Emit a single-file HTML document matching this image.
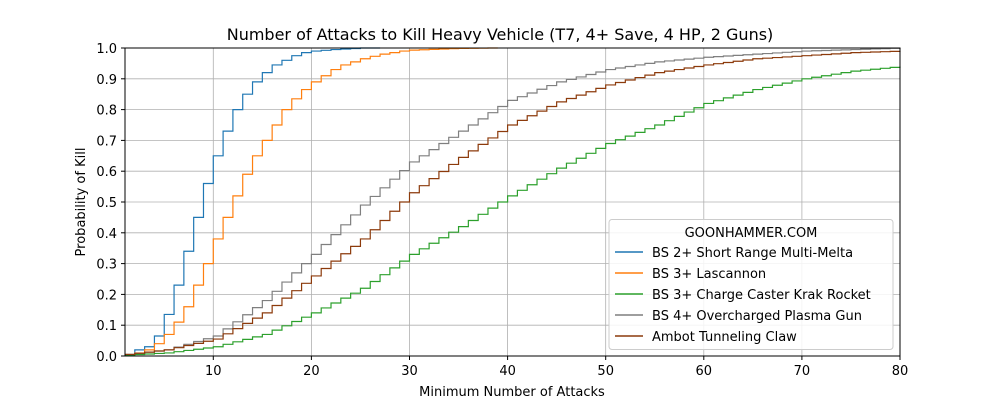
<!DOCTYPE html>
<html><head><meta charset="utf-8"><style>
html,body{margin:0;padding:0;background:#fff;}
svg text{font-family:"DejaVu Sans","Liberation Sans",sans-serif;fill:#000;}
</style></head><body>
<svg id="s" width="1000" height="400" xmlns="http://www.w3.org/2000/svg">
<rect width="1000" height="400" fill="#fff"/>
<g id="grid"></g>
<g id="series"></g>
<rect x="125" y="48" width="775" height="308" fill="none" stroke="#000" stroke-width="1"/>
<g id="ticks"></g>
<text x="500" y="40" font-size="16" text-anchor="middle">Number of Attacks to Kill Heavy Vehicle (T7, 4+ Save, 4 HP, 2 Guns)</text>
<text x="512" y="396" font-size="13" text-anchor="middle">Minimum Number of Attacks</text>
<text transform="translate(85,202) rotate(-90)" font-size="13" text-anchor="middle">Probability of Kill</text>
<g id="legend">
<rect x="609" y="219.5" width="284" height="130" rx="3" fill="#fff" fill-opacity="0.85" stroke="#ccc"/>
<text x="751" y="237" font-size="13" text-anchor="middle">GOONHAMMER.COM</text>
<line x1="615" y1="252" x2="643" y2="252" stroke="#1f77b4" stroke-width="1.5"/><text x="652" y="257" font-size="13">BS 2+ Short Range Multi-Melta</text>
<line x1="615" y1="273" x2="643" y2="273" stroke="#ff7f0e" stroke-width="1.5"/><text x="652" y="278" font-size="13">BS 3+ Lascannon</text>
<line x1="615" y1="294" x2="643" y2="294" stroke="#2ca02c" stroke-width="1.5"/><text x="652" y="299" font-size="13">BS 3+ Charge Caster Krak Rocket</text>
<line x1="615" y1="315" x2="643" y2="315" stroke="#7f7f7f" stroke-width="1.5"/><text x="652" y="320" font-size="13">BS 4+ Overcharged Plasma Gun</text>
<line x1="615" y1="336" x2="643" y2="336" stroke="#8c3a0b" stroke-width="1.5"/><text x="652" y="341" font-size="13">Ambot Tunneling Claw</text>
</g>
</svg>
<script>
var NS="http://www.w3.org/2000/svg";
function X(v){return 125+(v-1)*775/79;}
function Y(v){return 356-v*308;}
function el(t,a,p){var e=document.createElementNS(NS,t);for(var k in a)e.setAttribute(k,a[k]);document.getElementById(p).appendChild(e);return e;}
for(var i=10;i<=80;i+=10){el("line",{x1:X(i),x2:X(i),y1:48,y2:356,stroke:"#b0b0b0","stroke-width":0.8},"grid");
 el("line",{x1:X(i),x2:X(i),y1:356,y2:360,stroke:"#000"},"ticks");
 var t=el("text",{x:X(i),y:375,"font-size":13,"text-anchor":"middle"},"ticks");t.textContent=i;}
for(var j=0;j<=10;j++){var v=j/10,y=Y(v);el("line",{x1:125,x2:900,y1:y,y2:y,stroke:"#b0b0b0","stroke-width":0.8},"grid");
 el("line",{x1:121,x2:125,y1:y,y2:y,stroke:"#000"},"ticks");
 var t=el("text",{x:117,y:y+5,"font-size":13,"text-anchor":"end"},"ticks");t.textContent=v.toFixed(1);}
function interp(pts,n){for(var i=0;i<pts.length-1;i++){if(n>=pts[i][0]&&n<=pts[i+1][0]){var a=pts[i],b=pts[i+1];return a[1]+(b[1]-a[1])*(n-a[0])/(b[0]-a[0]);}}return pts[pts.length-1][1];}
var S=[
["#1f77b4",[[1,0.005],[2,0.02],[3,0.03],[4,0.065],[5,0.135],[6,0.23],[7,0.34],[8,0.45],[9,0.56],[10,0.65],[11,0.73],[12,0.80],[13,0.85],[14,0.89],[15,0.92],[16,0.945],[17,0.96],[18,0.975],[19,0.985],[20,0.99],[22,0.995],[25,1],[26,1]],26],
["#ff7f0e",[[1,0.005],[2,0.01],[3,0.02],[4,0.04],[5,0.07],[6,0.11],[7,0.16],[8,0.23],[9,0.30],[10,0.38],[11,0.45],[12,0.52],[13,0.59],[14,0.65],[15,0.70],[16,0.75],[17,0.80],[18,0.835],[19,0.865],[20,0.89],[21,0.91],[22,0.93],[23,0.945],[24,0.955],[25,0.965],[26,0.973],[27,0.98],[28,0.985],[29,0.99],[30,0.993],[34,0.998],[38,1]],38],
["#2ca02c",[[1,0.003],[5,0.01],[10,0.03],[15,0.07],[20,0.14],[25,0.22],[30,0.33],[35,0.42],[40,0.52],[45,0.61],[50,0.69],[55,0.75],[60,0.82],[65,0.865],[70,0.90],[75,0.925],[80,0.94]],80],
["#7f7f7f",[[1,0.005],[5,0.02],[10,0.065],[15,0.18],[20,0.33],[25,0.49],[30,0.63],[35,0.73],[40,0.83],[45,0.89],[50,0.93],[55,0.955],[60,0.97],[65,0.98],[70,0.99],[75,0.995],[80,1]],80],
["#8c3a0b",[[1,0.005],[5,0.02],[10,0.055],[15,0.14],[20,0.26],[25,0.38],[30,0.53],[35,0.645],[40,0.75],[45,0.825],[50,0.88],[55,0.92],[60,0.945],[65,0.965],[70,0.975],[75,0.985],[80,0.99]],80]];
S.forEach(function(s){var d="",prev=null;for(var n=1;n<=s[2];n++){var v=interp(s[1],n);
 if(prev===null)d="M"+X(n)+","+Y(v);else d+=" L"+X(n)+","+Y(prev)+" L"+X(n)+","+Y(v);prev=v;}
 d+=" L"+X(Math.min(s[2]+1,80))+","+Y(prev);
 el("path",{d:d,fill:"none",stroke:s[0],"stroke-width":1.2},"series");});
document.getElementById("s").appendChild(document.getElementById("legend"));
</script>
</body></html>
